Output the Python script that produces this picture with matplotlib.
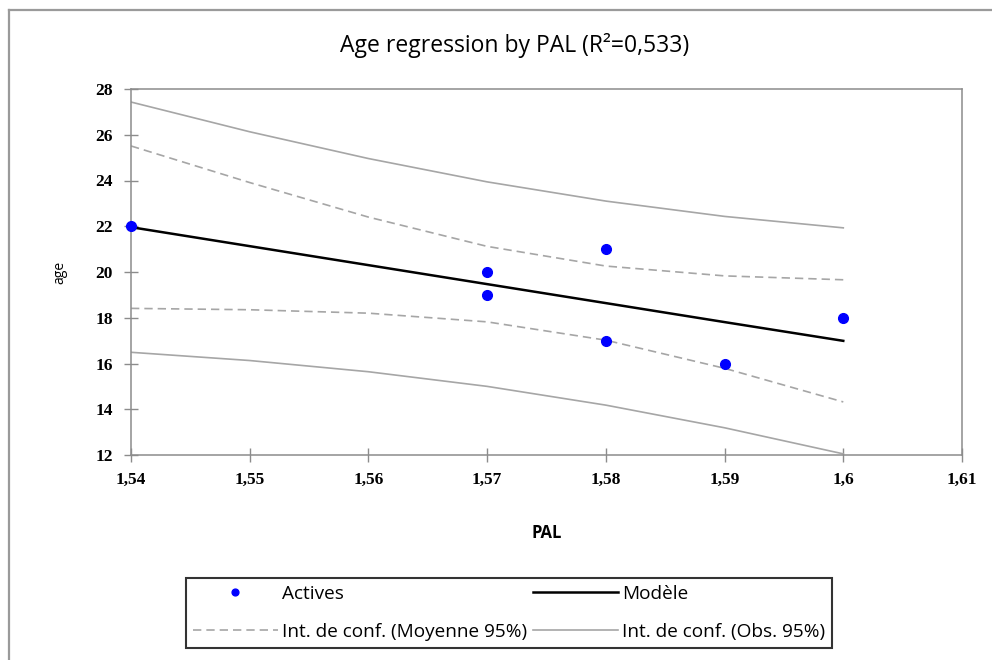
import matplotlib
matplotlib.use("Agg")
import matplotlib.pyplot as plt
from matplotlib.lines import Line2D
from matplotlib.ticker import FuncFormatter

# Observations
pal = [1.54, 1.57, 1.57, 1.58, 1.58, 1.59, 1.60]
age = [22, 20, 19, 21, 17, 16, 18]

# Curves read at these PAL values
grid_x = [1.54, 1.55, 1.56, 1.57, 1.58, 1.59, 1.60]
model = [21.96, 21.13, 20.30, 19.47, 18.64, 17.81, 16.99]
mean_upper = [25.51, 23.91, 22.40, 21.12, 20.26, 19.83, 19.66]
mean_lower = [18.41, 18.35, 18.20, 17.82, 17.02, 15.79, 14.32]
obs_upper = [27.43, 26.13, 24.96, 23.94, 23.10, 22.43, 21.93]
obs_lower = [16.49, 16.13, 15.64, 15.00, 14.18, 13.19, 12.05]

x_ticks = [1.54, 1.55, 1.56, 1.57, 1.58, 1.59, 1.60, 1.61]
y_ticks = [12, 14, 16, 18, 20, 22, 24, 26, 28]

title = "Age regression by PAL (R²=0,533)"

W, H = 992, 660
fig = plt.figure(figsize=(W / 100, H / 100), dpi=100)
ax = fig.add_axes([131 / W, 1 - 455 / H, 831 / W, 366 / H])

band_c = "#a6a6a6"
ax.plot(grid_x, obs_upper, color=band_c, lw=1.2, zorder=2)
ax.plot(grid_x, obs_lower, color=band_c, lw=1.2, zorder=2,
        label="Int. de conf. (Obs. 95%)")
ax.plot(grid_x, mean_upper, color=band_c, lw=1.2, ls=(0, (5, 3)), zorder=2)
ax.plot(grid_x, mean_lower, color=band_c, lw=1.2, ls=(0, (5, 3)), zorder=2,
        label="Int. de conf. (Moyenne 95%)")
ax.plot(grid_x, model, color="black", lw=1.8, zorder=3, label="Modèle")
ax.plot(pal, age, ls="none", marker="o", ms=7, color="#0000ff",
        mec="#0000ff", zorder=4, label="Actives", clip_on=False)

ax.set_xlim(1.54, 1.61)
ax.set_ylim(12, 28)
ax.set_xticks(x_ticks)
ax.set_yticks(y_ticks)

def fmt_x(v, pos):
    s = ("%.2f" % v).rstrip("0").rstrip(".")
    return s.replace(".", ",")

ax.xaxis.set_major_formatter(FuncFormatter(fmt_x))
ax.yaxis.set_major_formatter(FuncFormatter(lambda v, p: "%d" % v))

spine_c = "#8c8c8c"
for s in ax.spines.values():
    s.set_color(spine_c)
    s.set_linewidth(1.1)
ax.tick_params(axis="both", direction="inout", length=10, width=1.0,
               color=spine_c, labelsize=12.5)
ax.tick_params(axis="y", pad=8)
ax.tick_params(axis="x", pad=7)
for lab in ax.get_xticklabels() + ax.get_yticklabels():
    lab.set_family("Liberation Serif")
    lab.set_fontweight("bold")

ax.set_ylabel("age", fontsize=10, family="Open Sans", labelpad=20)
ax.set_xlabel("PAL", fontsize=12, family="Open Sans", fontweight="bold",
              labelpad=26)

fig.text(515 / W, 1 - 45 / H, title, ha="center", va="center",
         fontsize=16.5, family="Open Sans")

# outer chart frame
fig.add_artist(Line2D([9 / W, 9 / W], [0, 1 - 10 / H], color="#9a9a9a",
                      lw=1.6, transform=fig.transFigure))
fig.add_artist(Line2D([9 / W, 1], [1 - 10 / H, 1 - 10 / H], color="#9a9a9a",
                      lw=1.6, transform=fig.transFigure))

h, l = ax.get_legend_handles_labels()
order = [3, 1, 2, 0]  # Actives, Moyenne, Modèle, Obs
leg = fig.legend([h[i] for i in order], [l[i] for i in order], ncol=2,
                 loc="center", bbox_to_anchor=(509 / W, 1 - 613 / H),
                 prop={"family": "Open Sans", "size": 13.7},
                 frameon=True, fancybox=False, edgecolor="black",
                 handlelength=4.5, handletextpad=0.2, columnspacing=0.3,
                 borderpad=0.35, labelspacing=1.05, markerscale=0.7)
leg.get_frame().set_linewidth(1.5)

fig.savefig("out.png", dpi=100)
